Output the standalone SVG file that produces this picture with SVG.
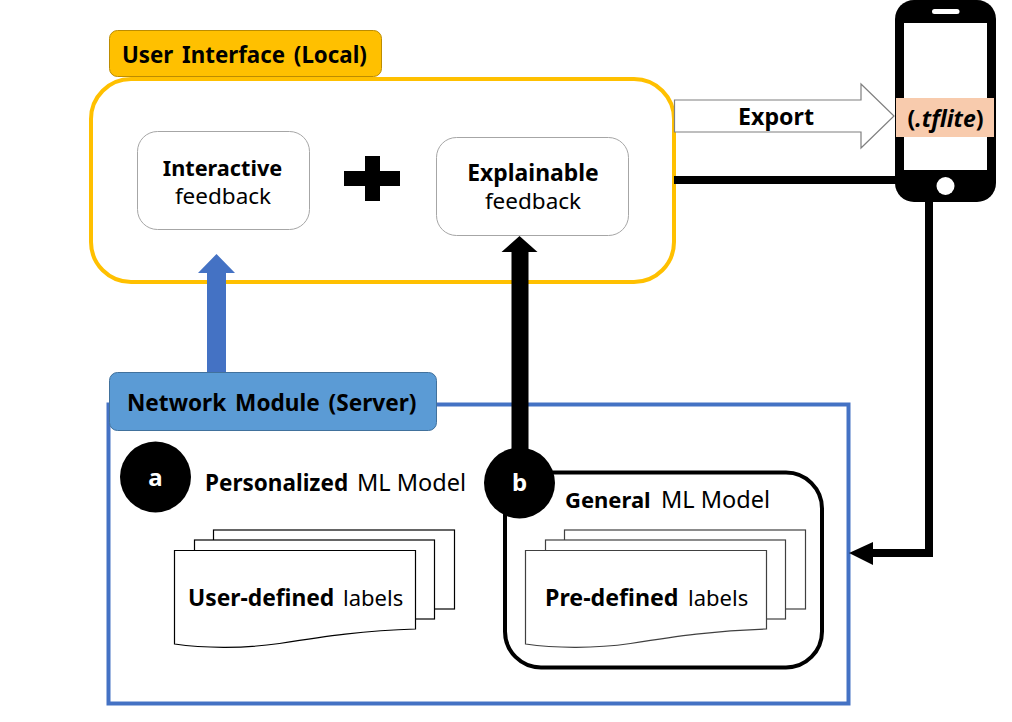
<svg xmlns="http://www.w3.org/2000/svg" width="1012" height="722" viewBox="0 0 1012 722">
<style>
text{font-family:"Noto Sans","Noto Sans CJK KR",sans-serif;font-size:22.5px;fill:#000}
.c{text-anchor:middle}
.b{font-weight:700}
.card{fill:#fff;stroke:#a6a6a6;stroke-width:1}
.sheet{fill:#fff;stroke:#000;stroke-width:1.2}
.sheet2{fill:#fff;stroke:#404040;stroke-width:1.2}
</style>
<defs>
<g id="stack">
<rect x="39" y="-20.500" width="241" height="79"/>
<rect x="20" y="-10.500" width="240" height="79"/>
<path d="M0 0H241V78.500C190 80 150 86 105 93C70 98 30 98 0 93.500Z"/>
</g>
</defs>
<rect width="1012" height="722" fill="#fff"/>
<g id="user-interface">
<rect x="91" y="79" width="583" height="203" rx="40" fill="#fff" stroke="#FFC000" stroke-width="4"/>
<rect x="109.500" y="30.500" width="272" height="46" rx="8" fill="#FFC000" stroke="#BC8C00" stroke-width="1"/>
<text x="122" y="63" class="b" style="font-size:22.300px" word-spacing="3">User Interface (Local)</text>
</g>
<g id="interactive-feedback">
<rect class="card" x="137.500" y="131.500" width="172" height="98" rx="20"/>
<text x="222.500" y="176" class="c b" style="font-size:21.700px">Interactive</text>
<text x="223" y="204" class="c">feedback</text>
</g>
<g id="plus"><path d="M344 171H365V156H380V171H400V186H380V201H365V186H344Z" fill="#000"/></g>
<g id="explainable-feedback">
<rect class="card" x="436.500" y="137.500" width="192" height="98" rx="20"/>
<text x="533" y="181" class="c b" style="font-size:22.900px">Explainable</text>
<text x="533" y="209" class="c">feedback</text>
</g>
<g id="network-module">
<rect x="108.500" y="404.500" width="740" height="299" fill="none" stroke="#4472C4" stroke-width="4"/>
</g>
<g id="connectors">
<path d="M207 373V273H198L216.500 254L235 273H226V373Z" fill="#4472C4"/>
<path d="M511.500 470V252H501.500L519.500 236L537.500 252H528.500V470Z" fill="#000"/>
<path d="M674 180H896" fill="none" stroke="#000" stroke-width="8"/>
<path d="M929 200V553H870" fill="none" stroke="#000" stroke-width="8"/>
<path d="M849 553L873 542V565Z" fill="#000"/>
<path d="M674.500 100H861V84L894 116L861 148V132H674.500Z" fill="#fff" stroke="#7f7f7f" stroke-width="1.200"/>
<text x="776" y="125" class="c b" style="font-size:23.200px">Export</text>
</g>
<g id="phone">
<rect x="895" y="0" width="101" height="202" rx="19" fill="#000"/>
<rect x="904" y="23" width="83" height="147" fill="#fff"/>
<rect x="932" y="9" width="27.500" height="5" rx="2.500" fill="#fff"/>
<circle cx="945.500" cy="186" r="9" fill="#fff"/>
<rect x="896" y="98" width="98" height="39" fill="#F8CBAD"/>
<text x="945.500" y="127" class="c b" style="font-size:23px">(<tspan font-style="italic">.tflite</tspan>)</text>
</g>
<g id="network-label">
<rect x="109.500" y="372.500" width="327" height="58" rx="8" fill="#5B9BD5" stroke="#41719C" stroke-width="1"/>
<text x="127" y="411" class="b" style="font-size:22.600px" word-spacing="3">Network Module (Server)</text>
</g>
<g id="personalized-model">
<circle cx="155.500" cy="477" r="35.500" fill="#000"/>
<text x="155.500" y="486" class="c b" style="fill:#fff;font-size:24px">a</text>
<text x="205" y="491" class="b">Personalized</text>
<text x="357" y="491" style="font-size:23.500px">ML Model</text>
</g>
<g id="user-labels">
<use href="#stack" x="174.500" y="550.500" class="sheet"/>
<text x="188" y="606" class="b" style="font-size:22.800px">User-defined</text>
<text x="343" y="606" style="font-size:22px">labels</text>
</g>
<g id="general-model">
<rect x="505" y="472.500" width="317" height="195" rx="36" fill="#fff" stroke="#000" stroke-width="4"/>
<circle cx="519.500" cy="483" r="35.500" fill="#000"/>
<text x="519.500" y="491" class="c b" style="fill:#fff;font-size:24px">b</text>
<text x="565" y="508" class="b" style="font-size:22px">General</text>
<text x="661" y="508" style="font-size:23.500px">ML Model</text>
</g>
<g id="pre-labels">
<use href="#stack" x="525.500" y="550.500" class="sheet2"/>
<text x="545" y="606" class="b" style="font-size:23.200px">Pre-defined</text>
<text x="688" y="606" style="font-size:22px">labels</text>
</g>
</svg>
